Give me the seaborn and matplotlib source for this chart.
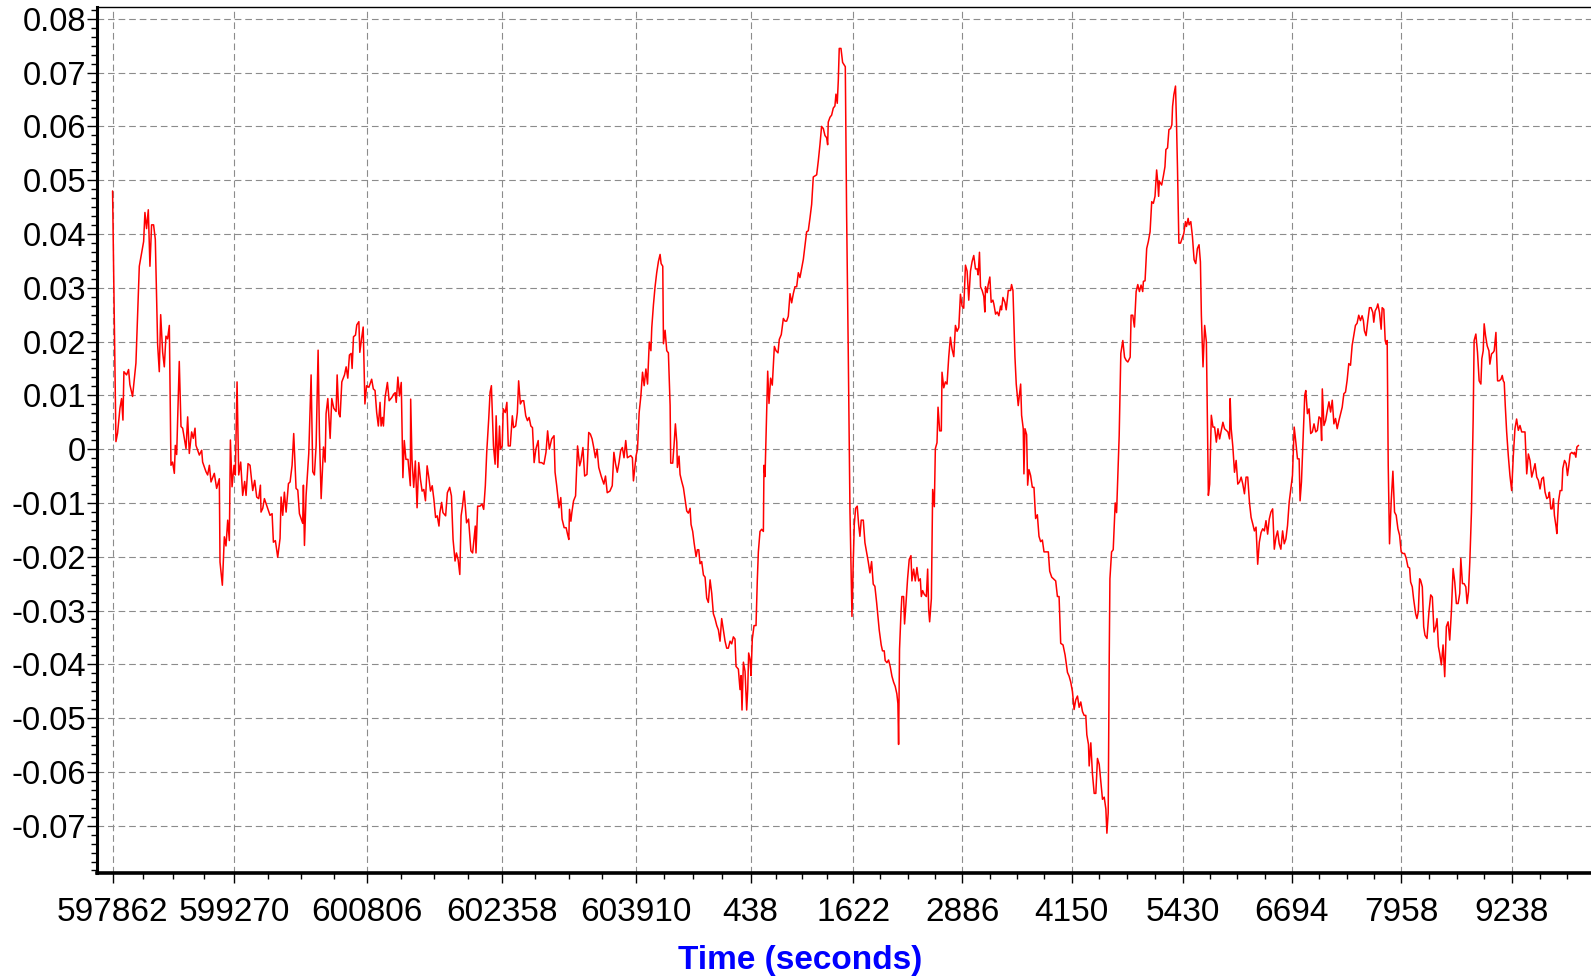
import matplotlib
matplotlib.use("Agg")
import matplotlib.pyplot as plt
import matplotlib.ticker as mticker
import pandas as pd
import seaborn as sns

WEEK = 604800  # time-of-week wraps here
tick_seconds = [597862, 599270, 600806, 602358, 603910, 438, 1622,
                2886, 4150, 5430, 6694, 7958, 9238]

# (seconds elapsed since 597862, value)
seg_a = [
    (0, 0.048), (39, 0.0014), (58, 0.003), (85, 0.0076), (104, 0.0094), (120, 0.0054),
    (131, 0.0144), (162, 0.0138), (185, 0.0148), (200, 0.012), (231, 0.0098), (270, 0.016),
    (309, 0.034), (359, 0.0386), (374, 0.044), (393, 0.041), (413, 0.0445), (432, 0.034),
    (451, 0.0417), (474, 0.0417), (494, 0.039), (521, 0.0194), (540, 0.0144), (556, 0.025),
    (579, 0.018), (598, 0.0153), (617, 0.021), (636, 0.0205), (656, 0.023), (675, -0.003),
    (694, -0.0024), (714, -0.0045), (725, 0.0007), (741, -0.001), (771, 0.0163), (791, 0.0042),
    (810, 0.0039), (849, 0.0001), (868, 0.006), (887, -0.0008), (914, 0.0032), (933, 0.002),
    (953, 0.0039), (964, 0.0007), (1003, -0.0011), (1030, -0.0002), (1041, -0.0024),
    (1080, -0.0042), (1099, -0.0048), (1119, -0.003), (1138, -0.0061), (1176, -0.0045),
    (1203, -0.0073), (1234, -0.0055), (1242, -0.021), (1269, -0.0253), (1292, -0.0163),
    (1311, -0.018), (1331, -0.0132), (1350, -0.017), (1362, 0.0017), (1381, -0.007),
    (1404, -0.003), (1419, -0.0048), (1439, 0.0125), (1458, -0.0048), (1481, -0.0024),
    (1504, -0.0086), (1527, -0.006), (1543, -0.0086), (1566, -0.0027), (1589, -0.003),
    (1620, -0.0077), (1643, -0.0058), (1666, -0.0089), (1689, -0.0092), (1709, -0.0067),
    (1716, -0.0117), (1736, -0.011), (1755, -0.0092), (1793, -0.011), (1820, -0.0123),
    (1844, -0.012), (1859, -0.0173), (1882, -0.017), (1909, -0.0201), (1936, -0.0166),
    (1948, -0.0089), (1967, -0.0123), (1986, -0.008), (2006, -0.0117), (2033, -0.0064),
    (2052, -0.0061), (2075, -0.003), (2094, 0.0029), (2121, -0.0073), (2141, -0.0076),
    (2160, -0.012), (2198, -0.0138), (2206, -0.0067), (2218, -0.0179), (2237, -0.0086),
    (2268, -0.0008), (2295, 0.0138), (2314, -0.0042), (2333, -0.0048), (2353, 0.0007),
    (2376, 0.0184), (2391, 0.0029), (2411, -0.0092), (2438, 0.0004), (2457, -0.0024),
    (2468, 0.0066), (2488, 0.0094), (2515, 0.002), (2534, 0.0094), (2557, 0.0076),
    (2584, 0.007), (2596, 0.0138), (2615, 0.0066), (2630, 0.006), (2650, 0.0125),
    (2681, 0.0138), (2700, 0.0153), (2719, 0.0132), (2738, 0.0175), (2758, 0.0178),
    (2769, 0.015), (2785, 0.0209), (2808, 0.0212), (2823, 0.0231), (2847, 0.0237),
]

seg_b = [
    (2858, 0.018), (2878, 0.0205), (2897, 0.0227), (2917, 0.0084), (2936, 0.0118),
    (2963, 0.0115), (2995, 0.013), (3014, 0.0112), (3034, 0.0109), (3053, 0.0068),
    (3072, 0.0043), (3092, 0.0087), (3104, 0.0043), (3119, 0.0059), (3131, 0.0043),
    (3150, 0.0096), (3177, 0.0124), (3197, 0.009), (3228, 0.0096), (3248, 0.0102),
    (3267, 0.0105), (3279, 0.0087), (3298, 0.0134), (3317, 0.0099), (3337, 0.0124),
    (3356, -0.0053), (3372, 0.0016), (3391, -0.0019), (3415, -0.0019), (3442, -0.0068),
    (3446, 0.0093), (3461, -0.0019), (3481, -0.0071), (3500, -0.0022), (3520, -0.0109),
    (3539, -0.0025), (3559, -0.0056), (3578, -0.0078), (3598, -0.0075), (3617, -0.0096),
    (3636, -0.0031), (3656, -0.0053), (3675, -0.0078), (3695, -0.0068), (3714, -0.0093),
    (3734, -0.0127), (3753, -0.0124), (3773, -0.0143), (3784, -0.0118), (3804, -0.0099),
    (3819, -0.0118), (3850, -0.0124), (3870, -0.0081), (3897, -0.0071), (3917, -0.0087),
    (3936, -0.0168), (3959, -0.0208), (3975, -0.0193), (3994, -0.0205), (4014, -0.0233),
    (4029, -0.0124), (4045, -0.0106), (4064, -0.0078), (4092, -0.0137), (4115, -0.013),
    (4142, -0.0189), (4162, -0.0193), (4193, -0.0143), (4201, -0.0193), (4220, -0.0106),
    (4247, -0.0106), (4271, -0.0102), (4290, -0.0112), (4309, -0.0068), (4325, -0.0006),
    (4348, 0.0056), (4364, 0.0106), (4379, 0.0118), (4403, 0.0006), (4422, -0.0028),
    (4434, 0.0062), (4453, -0.0034), (4473, 0.0043), (4484, 0.0), (4504, 0.0006),
    (4516, 0.0075), (4539, 0.0068), (4558, 0.0087), (4574, 0.0006), (4597, 0.0006),
    (4621, 0.0062), (4636, 0.004), (4660, 0.0043), (4679, 0.0068), (4694, 0.0127),
    (4714, 0.0084), (4733, 0.009), (4753, 0.009), (4776, 0.0062), (4796, 0.0053),
    (4815, 0.0059), (4835, 0.0043), (4854, 0.004), (4873, -0.0025), (4893, 0.0),
    (4920, 0.0016), (4932, -0.0025), (4959, -0.0025), (4986, -0.0028), (5010, -0.0006),
    (5029, 0.0034), (5049, 0.0), (5076, 0.0019), (5103, 0.0025), (5115, -0.0043),
    (5134, -0.0068), (5161, -0.0109), (5181, -0.009), (5196, -0.013), (5220, -0.0146),
    (5243, -0.0146), (5259, -0.0158), (5274, -0.0168), (5282, -0.0112), (5298, -0.0134),
    (5309, -0.0118), (5329, -0.0096), (5352, -0.0087), (5375, 0.0006), (5399, -0.0031),
    (5414, -0.0022), (5437, 0.0003), (5457, -0.005), (5484, -0.0047), (5504, 0.0031),
    (5523, 0.0028), (5543, 0.0019), (5562, 0.0003), (5581, -0.0016), (5601, 0.0),
    (5620, -0.0034), (5648, -0.005), (5679, -0.0065), (5698, -0.005), (5718, -0.0081),
    (5749, -0.0078), (5776, -0.0068), (5795, -0.0006), (5815, -0.0028), (5834, -0.0043),
    (5854, -0.0025), (5873, -0.0003), (5893, 0.0003), (5912, -0.0016), (5932, 0.0016),
    (5951, -0.0016), (5990, -0.0012), (6009, -0.0016), (6021, -0.0059), (6037, -0.0034),
    (6052, -0.0012), (6068, 0.0), (6087, 0.0068), (6107, 0.0099), (6126, 0.0143),
    (6145, 0.0118), (6165, 0.0149), (6184, 0.0121), (6204, 0.0199), (6223, 0.0183),
]

seg_c = [
    (6233, 0.0226), (6252, 0.0268), (6271, 0.0302), (6290, 0.0328), (6310, 0.0349),
    (6329, 0.0362), (6341, 0.0345), (6360, 0.034), (6368, 0.0196), (6387, 0.0221),
    (6406, 0.0183), (6425, 0.0179), (6445, 0.0081), (6452, -0.0026), (6475, -0.0026),
    (6491, 0.0009), (6506, 0.0047), (6522, 0.0013), (6529, -0.0034), (6548, -0.0013),
    (6560, -0.0047), (6579, -0.006), (6599, -0.0072), (6618, -0.0094), (6637, -0.0115),
    (6656, -0.0119), (6676, -0.011), (6687, -0.014), (6706, -0.0153), (6722, -0.0174),
    (6745, -0.02), (6760, -0.0187), (6776, -0.0187), (6791, -0.0213), (6810, -0.0209),
    (6830, -0.0234), (6849, -0.0238), (6868, -0.0277), (6887, -0.0285), (6907, -0.0243),
    (6926, -0.0268), (6945, -0.0306), (6964, -0.0315), (6984, -0.0328), (7003, -0.0336),
    (7022, -0.0357), (7041, -0.0315), (7061, -0.0336), (7080, -0.0357), (7099, -0.037),
    (7118, -0.037), (7138, -0.0357), (7157, -0.0362), (7176, -0.0349), (7195, -0.0353),
    (7207, -0.0404), (7234, -0.0409), (7253, -0.0447), (7265, -0.0421), (7276, -0.0485),
    (7292, -0.0396), (7311, -0.0413), (7330, -0.0485), (7342, -0.0447), (7353, -0.0379),
    (7369, -0.0391), (7380, -0.0421), (7395, -0.0353), (7415, -0.0328), (7438, -0.0328),
    (7453, -0.0243), (7465, -0.0191), (7484, -0.0153), (7503, -0.0149), (7523, -0.0153),
    (7530, -0.003), (7542, -0.0051), (7561, 0.0072), (7573, 0.0145), (7588, 0.0085),
    (7607, 0.0132), (7626, 0.0119), (7650, 0.0191), (7669, 0.0183), (7692, 0.0179),
    (7707, 0.0204), (7730, 0.0213), (7754, 0.0243), (7773, 0.0238), (7792, 0.0238),
    (7811, 0.0247), (7831, 0.0289), (7850, 0.0272), (7869, 0.0289), (7888, 0.0302),
    (7908, 0.0302), (7927, 0.0328), (7946, 0.0319), (7965, 0.0336), (7985, 0.0353),
    (8004, 0.0379), (8023, 0.0404), (8042, 0.0406), (8062, 0.043), (8081, 0.0455),
    (8100, 0.0506), (8119, 0.0508), (8139, 0.051), (8158, 0.0536), (8177, 0.0566),
    (8196, 0.06), (8216, 0.0596), (8235, 0.0583), (8254, 0.0579), (8266, 0.0566),
    (8273, 0.0608), (8293, 0.0617), (8312, 0.0621), (8331, 0.0634), (8350, 0.0638),
    (8362, 0.066), (8377, 0.0643), (8389, 0.0685), (8400, 0.0745), (8420, 0.0745),
    (8439, 0.0719), (8470, 0.0711), (8485, 0.044), (8504, 0.0183), (8524, -0.0115),
    (8547, -0.0311), (8562, -0.0209), (8574, -0.014), (8589, -0.011), (8608, -0.0106),
    (8624, -0.014), (8639, -0.0162), (8654, -0.0132), (8678, -0.0132), (8697, -0.0174),
    (8716, -0.0191), (8735, -0.0209), (8755, -0.023), (8774, -0.0209), (8793, -0.0251),
    (8812, -0.0255), (8832, -0.0285),
]

seg_d = [
    (8862, -0.0336), (8885, -0.0364), (8900, -0.0375), (8920, -0.0375), (8931, -0.0393),
    (8951, -0.0397), (8970, -0.0392), (8989, -0.0404), (9009, -0.0422), (9028, -0.0433),
    (9047, -0.0441), (9066, -0.0455), (9078, -0.0473), (9086, -0.0549), (9097, -0.0372),
    (9113, -0.0307), (9124, -0.0274), (9144, -0.0274), (9155, -0.0325), (9171, -0.0288),
    (9190, -0.0241), (9209, -0.0205), (9229, -0.0198), (9240, -0.0245), (9260, -0.0223),
    (9279, -0.0245), (9298, -0.022), (9318, -0.0245), (9337, -0.0241), (9349, -0.0274),
    (9364, -0.0263), (9383, -0.027), (9407, -0.0274), (9422, -0.0223), (9434, -0.0299),
    (9445, -0.0321), (9465, -0.0278), (9480, -0.0075), (9499, -0.0107), (9511, 0.0001),
    (9530, 0.0012), (9542, 0.0078), (9561, 0.0034), (9580, 0.0034), (9588, 0.0143),
    (9608, 0.0114), (9627, 0.0125), (9646, 0.0121), (9666, 0.0172), (9685, 0.0208),
    (9704, 0.0186), (9724, 0.0172), (9743, 0.023), (9762, 0.0219), (9782, 0.0226),
    (9801, 0.0288), (9820, 0.0266), (9839, 0.0262), (9859, 0.0342), (9878, 0.0331),
    (9897, 0.0277), (9917, 0.0331), (9936, 0.0349), (9955, 0.036), (9975, 0.0335),
    (9994, 0.0335), (10006, 0.0324), (10021, 0.0366), (10033, 0.0302), (10052, 0.0295),
    (10071, 0.0284), (10083, 0.0255), (10091, 0.0302), (10110, 0.0291), (10122, 0.0306),
    (10141, 0.032), (10156, 0.0273), (10176, 0.0277), (10187, 0.027), (10207, 0.0251),
    (10226, 0.0255), (10245, 0.0248), (10265, 0.0266), (10276, 0.0259), (10292, 0.0282),
    (10315, 0.0273), (10330, 0.0259), (10354, 0.0295), (10381, 0.0295), (10392, 0.0306),
    (10408, 0.0295), (10431, 0.0172), (10446, 0.0121), (10469, 0.0081), (10497, 0.0121),
    (10508, 0.0063), (10527, 0.0038), (10535, -0.0046), (10547, 0.0038), (10566, 0.0027),
    (10578, -0.0067), (10593, -0.0038), (10612, -0.0049), (10632, -0.0071), (10651, -0.0071),
    (10670, -0.0129), (10690, -0.0122), (10709, -0.0162), (10728, -0.0172), (10748, -0.0169),
    (10767, -0.0191), (10817, -0.0191), (10833, -0.0227), (10856, -0.0238), (10902, -0.0245),
    (10922, -0.0274), (10941, -0.0274), (10960, -0.0361), (10987, -0.0364), (11011, -0.0383),
    (11038, -0.0415), (11057, -0.0422), (11076, -0.0433), (11096, -0.0451), (11115, -0.0484),
    (11134, -0.0466), (11154, -0.0459), (11173, -0.048), (11192, -0.047), (11212, -0.0488),
    (11231, -0.0495), (11250, -0.0495), (11262, -0.0531), (11281, -0.0549), (11289, -0.0589),
    (11308, -0.0546), (11327, -0.0604), (11347, -0.064), (11366, -0.064), (11385, -0.0575),
    (11405, -0.0586), (11424, -0.0618), (11443, -0.0651), (11463, -0.0647), (11482, -0.0669),
    (11494, -0.0714), (11509, -0.0676), (11521, -0.0386), (11529, -0.0241), (11548, -0.0191),
    (11567, -0.0187), (11579, -0.014), (11590, -0.01), (11606, -0.0118),
]

seg_e = [
    (11636, 0.0025), (11655, 0.0178), (11678, 0.0202), (11698, 0.0171), (11717, 0.0165),
    (11736, 0.0162), (11763, 0.0171), (11774, 0.0249), (11793, 0.0249), (11812, 0.0227),
    (11832, 0.0293), (11851, 0.0306), (11870, 0.0293), (11889, 0.0305), (11908, 0.0293),
    (11916, 0.0312), (11935, 0.0313), (11954, 0.0373), (11973, 0.0386), (11993, 0.0404),
    (12012, 0.046), (12031, 0.0457), (12050, 0.047), (12069, 0.0519), (12081, 0.0498),
    (12092, 0.047), (12100, 0.0498), (12127, 0.0491), (12146, 0.0507), (12165, 0.0525),
    (12176, 0.0557), (12195, 0.056), (12211, 0.0594), (12230, 0.0596), (12245, 0.0603),
    (12253, 0.0637), (12268, 0.0659), (12287, 0.0675), (12299, 0.0603), (12310, 0.0522),
    (12326, 0.0383), (12345, 0.0383), (12364, 0.0392), (12383, 0.0401), (12402, 0.0423),
    (12414, 0.0414), (12433, 0.0429), (12444, 0.0417), (12464, 0.0423), (12483, 0.0395),
    (12502, 0.0352), (12521, 0.0345), (12540, 0.0373), (12559, 0.038), (12575, 0.0348),
    (12586, 0.0249), (12605, 0.0153), (12624, 0.023), (12644, 0.0199), (12655, 0.0063),
    (12667, -0.0086), (12682, -0.0065), (12701, 0.0063), (12720, 0.0041), (12739, 0.0041),
    (12759, 0.0013), (12778, 0.0038), (12797, 0.0019), (12816, 0.0035), (12835, 0.005),
    (12854, 0.0038), (12873, 0.0035), (12893, 0.0032), (12912, 0.0019), (12919, 0.0094),
    (12931, 0.0038), (12950, 0.0004), (12969, -0.0043), (12988, -0.0021), (13007, -0.0065),
    (13027, -0.0061), (13046, -0.0052), (13065, -0.0065), (13084, -0.0083), (13103, -0.0052),
    (13122, -0.0052), (13142, -0.0099), (13161, -0.0127), (13180, -0.0139), (13199, -0.0152),
    (13218, -0.0145), (13237, -0.0214), (13256, -0.0173), (13276, -0.0155), (13295, -0.0148),
    (13314, -0.0152), (13333, -0.0133), (13352, -0.0158), (13371, -0.013), (13390, -0.0117),
    (13410, -0.0111), (13429, -0.0186), (13448, -0.0164), (13467, -0.0152), (13486, -0.0176),
    (13505, -0.0186), (13525, -0.0152), (13544, -0.0176), (13563, -0.0167), (13582, -0.0142),
    (13601, -0.0099), (13620, -0.0074), (13639, -0.0049), (13659, 0.0041), (13678, 0.0013),
    (13697, -0.0018), (13716, -0.0018), (13727, -0.0096), (13743, -0.0061), (13762, 0.0019),
    (13781, 0.01), (13793, 0.0109), (13812, 0.0066), (13831, 0.0075), (13850, 0.0029),
    (13869, 0.0032), (13888, 0.0047), (13908, 0.0032), (13927, 0.0035), (13946, 0.006),
    (13965, 0.0057), (13976, 0.0016), (13984, 0.0112), (14003, 0.0044), (14022, 0.0053),
    (14042, 0.0072), (14061, 0.0088), (14080, 0.0069), (14099, 0.0091), (14118, 0.0047),
    (14137, 0.0057), (14156, 0.0038), (14176, 0.0053), (14214, 0.0078), (14233, 0.0103),
    (14252, 0.0106), (14271, 0.0128), (14290, 0.0159), (14310, 0.0156), (14329, 0.0193),
    (14348, 0.0212), (14367, 0.023), (14386, 0.0234), (14405, 0.0249),
]

seg_f = [
    (14425, 0.0239), (14444, 0.0248), (14459, 0.0239), (14471, 0.022), (14490, 0.0211),
    (14510, 0.0239), (14529, 0.0263), (14548, 0.0263), (14568, 0.0254), (14579, 0.0236),
    (14595, 0.0257), (14614, 0.0263), (14626, 0.027), (14645, 0.0254), (14664, 0.0223),
    (14676, 0.0263), (14695, 0.026), (14711, 0.0202), (14722, 0.0195), (14734, 0.0202),
    (14746, -0.003), (14761, -0.0176), (14780, -0.0098), (14800, -0.0041), (14819, -0.0117),
    (14838, -0.0123), (14858, -0.0148), (14877, -0.016), (14896, -0.0191), (14916, -0.0194),
    (14935, -0.0194), (14954, -0.0203), (14974, -0.0219), (14993, -0.0221), (15005, -0.0247),
    (15024, -0.0256), (15039, -0.0278), (15063, -0.0306), (15078, -0.0315), (15094, -0.0302),
    (15109, -0.0241), (15121, -0.0244), (15140, -0.0256), (15156, -0.033), (15171, -0.0346),
    (15194, -0.0352), (15217, -0.0302), (15237, -0.0271), (15256, -0.0275), (15275, -0.034),
    (15295, -0.033), (15310, -0.0315), (15326, -0.0367), (15341, -0.038), (15360, -0.0401),
    (15380, -0.0364), (15399, -0.0423), (15418, -0.033), (15438, -0.0321), (15457, -0.0355),
    (15476, -0.0302), (15496, -0.0222), (15515, -0.0247), (15534, -0.0287), (15554, -0.0287),
    (15573, -0.0268), (15585, -0.0203), (15604, -0.025), (15623, -0.025), (15643, -0.0256),
    (15658, -0.0287), (15674, -0.0265), (15689, -0.021), (15708, -0.0117), (15728, 0.0056),
    (15739, 0.0202), (15759, 0.0214), (15778, 0.018), (15797, 0.0127), (15817, 0.0121),
    (15828, 0.0168), (15844, 0.0183), (15855, 0.0233), (15871, 0.0211), (15890, 0.0192),
    (15910, 0.0183), (15921, 0.0158), (15940, 0.0177), (15960, 0.018), (15971, 0.0183),
    (15991, 0.0217), (15998, 0.018), (16010, 0.0127), (16029, 0.0127), (16049, 0.013),
    (16064, 0.0137), (16076, 0.0127), (16087, 0.0124), (16099, 0.0081), (16115, 0.0032),
    (16134, -0.0012), (16153, -0.0049), (16173, -0.0077), (16192, -0.0012), (16211, 0.0038),
    (16230, 0.0056), (16250, 0.0035), (16269, 0.0044), (16289, 0.0032), (16327, 0.0032),
    (16347, -0.0046), (16366, -0.0009), (16385, -0.0021), (16405, -0.0052), (16424, -0.004),
    (16443, -0.0027), (16463, -0.0052), (16482, -0.0058), (16501, -0.0074), (16521, -0.0055),
    (16540, -0.0052), (16559, -0.008), (16579, -0.0092), (16598, -0.0089), (16609, -0.008),
    (16625, -0.0111), (16640, -0.0111), (16656, -0.0092), (16667, -0.0123), (16687, -0.0145),
    (16695, -0.0157), (16714, -0.0098), (16733, -0.0077), (16753, -0.0077), (16764, -0.0036),
    (16784, -0.0021), (16803, -0.0027), (16818, -0.0049), (16834, -0.003), (16849, -0.0009),
    (16868, -0.0006), (16888, -0.0009), (16899, -0.0006), (16915, -0.0015), (16927, 0.0004),
    (16946, 0.0007),
]

points = seg_a + seg_b + seg_c + seg_d + seg_e + seg_f
df = pd.DataFrame(points, columns=["elapsed", "value"])

sns.set_theme(style="white")
plt.rcParams["font.family"] = ["Liberation Sans", "DejaVu Sans"]

W, H = 1591, 977
fig = plt.figure(figsize=(W / 100, H / 100), dpi=100)
ax = fig.add_axes([97 / W, (H - 873) / H, (W - 97) / W, (873 - 7) / H])

sns.lineplot(data=df, x="elapsed", y="value", color="#ff0000", linewidth=1.1,
             estimator=None, sort=False, ax=ax)

# x ticks sit at the unwrapped time-of-week positions
tick_pos = [(s - tick_seconds[0]) % WEEK for s in tick_seconds]
ax.set_xticks(tick_pos)
ax.set_xticklabels([str(s) for s in tick_seconds])
minor = []
for a, b in zip(tick_pos[:-1], tick_pos[1:]):
    minor += [a + (b - a) * k / 4 for k in (1, 2, 3)]
step = tick_pos[-1] - tick_pos[-2]
minor += [tick_pos[-1] + step * k / 4 for k in range(1, 8)]
ax.set_xticks(minor, minor=True)

ax.set_xlim(-180, 17090)
ax.set_ylim(-0.0788, 0.0822)
ax.yaxis.set_major_locator(mticker.MultipleLocator(0.01))
ax.yaxis.set_minor_locator(mticker.AutoMinorLocator(6))
ax.yaxis.set_major_formatter(mticker.FuncFormatter(
    lambda v, _: "0" if abs(v) < 1e-9 else f"{v:.2f}"))

ax.grid(True, which="major", color="#8c8c8c", linestyle=(0, (6, 3.5)), linewidth=0.8)
ax.set_axisbelow(True)

ax.spines["left"].set_linewidth(2.2)
ax.spines["bottom"].set_linewidth(2.6)
ax.spines["top"].set_linewidth(1.0)
ax.spines["right"].set_visible(False)
for s in ("left", "bottom", "top"):
    ax.spines[s].set_color("black")

ax.tick_params(axis="both", which="major", direction="out", length=7, width=1,
               color="black", labelcolor="black")
ax.tick_params(axis="both", which="minor", direction="out", length=4.5, width=1,
               color="black")
ax.tick_params(axis="x", which="major", pad=10, labelsize=24)
ax.tick_params(axis="y", which="major", pad=1, labelsize=23.5)
ax.tick_params(left=True, bottom=True, which="both")

ax.set_xlabel("")
ax.set_ylabel("")
fig.text(800 / W, 1 - 960 / H, "Time (seconds)", color="#0000ff", fontsize=24,
         fontweight="bold", ha="center", va="center")

fig.savefig("out.png", dpi=100)
